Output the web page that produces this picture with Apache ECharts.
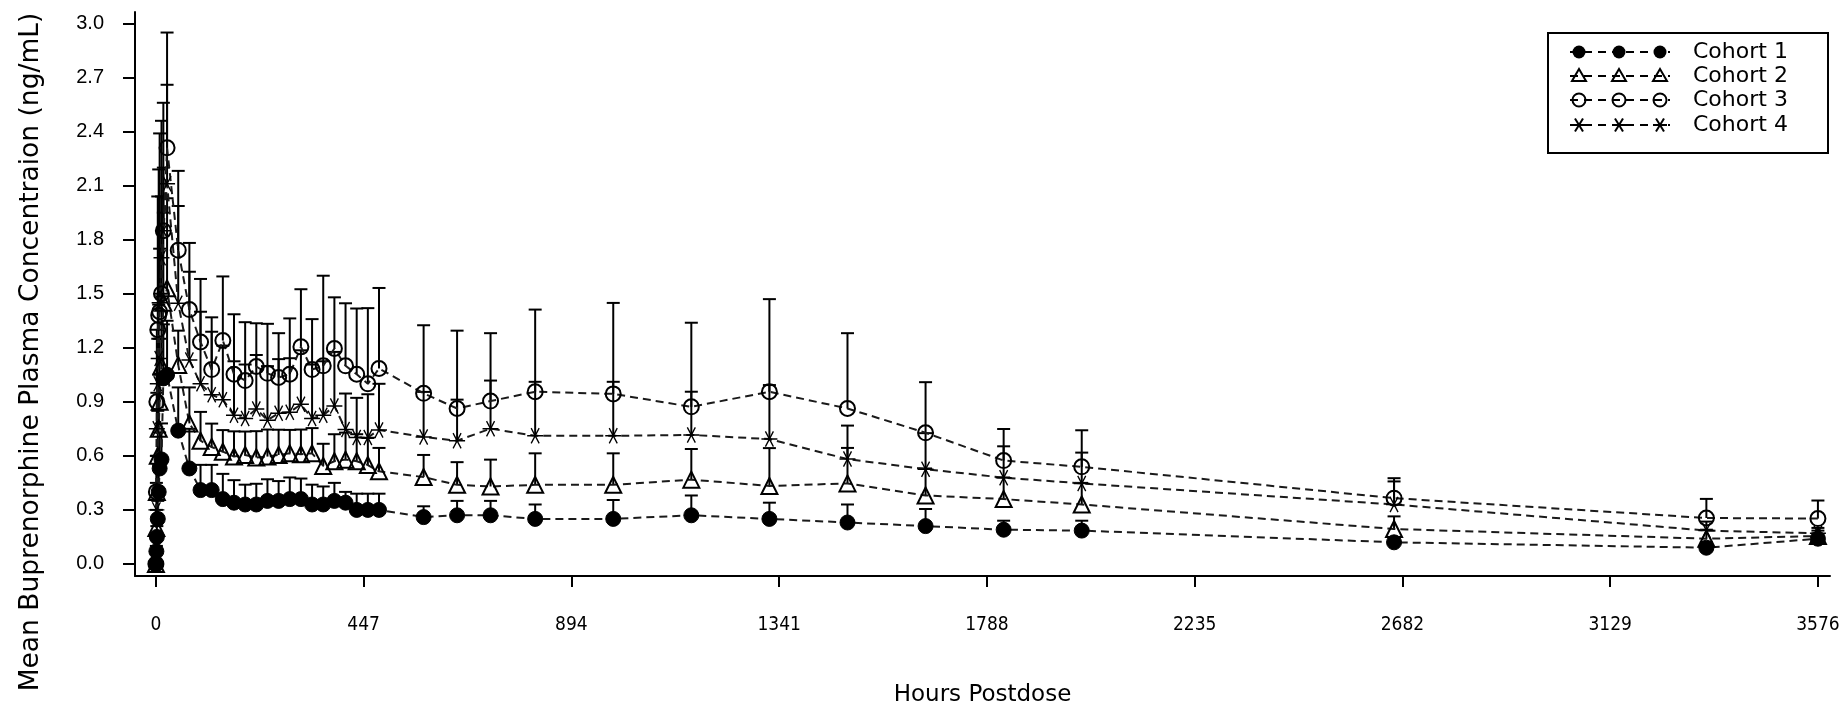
<!DOCTYPE html>
<html>
<head>
<meta charset="utf-8">
<script src="https://cdn.jsdelivr.net/npm/echarts@6/dist/echarts.min.js"></script>
<style>
  html, body { margin: 0; padding: 0; background: #fff; }
  #chart { width: 1843px; height: 705px; }
</style>
</head>
<body>
<div id="chart"></div>
<script>
// Sampling times (hours after dose), shared by all cohorts
const hours = [0, 1, 2, 4, 6, 8, 12, 16, 24,
  48, 72, 96, 120, 144, 168, 192, 216, 240, 264, 288, 312, 336, 360, 384, 408, 432, 456, 480,
  576, 648, 720, 816, 984, 1152, 1320, 1488, 1656, 1824, 1992, 2664, 3336, 3576];

// Mean plasma concentration (ng/mL) per cohort
const cohort1Mean = [0, 0.07, 0.15, 0.25, 0.40, 0.53, 0.58, 1.03, 1.05,
  0.74, 0.53, 0.41, 0.41, 0.36, 0.34, 0.33, 0.33, 0.35, 0.35, 0.36, 0.36, 0.33, 0.33, 0.35, 0.34, 0.30, 0.30, 0.30,
  0.26, 0.27, 0.27, 0.25, 0.25, 0.27, 0.25, 0.23, 0.21, 0.19, 0.185, 0.12, 0.09, 0.14];
const cohort2Mean = [0, 0.20, 0.40, 0.60, 0.75, 0.90, 1.10, 1.45, 1.53,
  1.105, 0.78, 0.684, 0.649, 0.623, 0.596, 0.605, 0.591, 0.596, 0.605, 0.614, 0.609, 0.614, 0.544, 0.57, 0.579, 0.57, 0.549, 0.514,
  0.482, 0.439, 0.43, 0.439, 0.439, 0.468, 0.433, 0.447, 0.38, 0.36, 0.33, 0.194, 0.14, 0.155];
const cohort3Mean = [0, 0.40, 0.90, 1.30, 1.38, 1.40, 1.50, 1.85, 2.31,
  1.742, 1.412, 1.232, 1.079, 1.24, 1.053, 1.018, 1.096, 1.058, 1.035, 1.053, 1.205, 1.079, 1.10, 1.196, 1.10, 1.053, 1.0, 1.085,
  0.947, 0.863, 0.904, 0.956, 0.944, 0.872, 0.956, 0.863, 0.728, 0.574, 0.539, 0.365, 0.255, 0.252];
const cohort4Mean = [0, 0.30, 0.75, 1.00, 1.14, 1.45, 1.70, 1.85, 2.11,
  1.447, 1.132, 1.0, 0.939, 0.912, 0.825, 0.807, 0.86, 0.798, 0.837, 0.842, 0.886, 0.807, 0.825, 0.877, 0.746, 0.702, 0.702, 0.744,
  0.705, 0.684, 0.751, 0.711, 0.711, 0.716, 0.693, 0.582, 0.526, 0.479, 0.447, 0.33, 0.185, 0.17];

// Standard deviations (drawn as upper error bars)
const cohort1Sd = [0, 0.03, 0.06, 0.1, 0.15, 0.2, 0.2, 0.3, 0.3,
  0.24, 0.22, 0.14, 0.14, 0.14, 0.125, 0.11, 0.115, 0.12, 0.11, 0.12, 0.114, 0.11, 0.10, 0.10, 0.06, 0.09, 0.09, 0.09,
  0.06, 0.08, 0.08, 0.08, 0.105, 0.11, 0.09, 0.10, 0.095, 0.05, 0.055, 0.03, 0.03, 0.02];
const cohort2Sd = [0, 0.1, 0.2, 0.25, 0.3, 0.35, 0.4, 0.5, 0.5,
  0.19, 0.2, 0.16, 0.13, 0.12, 0.14, 0.13, 0.146, 0.15, 0.14, 0.13, 0.137, 0.14, 0.123, 0.15, 0.15, 0.15, 0.15, 0.13,
  0.123, 0.126, 0.149, 0.175, 0.175, 0.17, 0.21, 0.197, 0.15, 0.12, 0.12, 0.07, 0.05, 0.03];
const cohort3Sd = [0, 0.2, 0.4, 0.74, 0.81, 0.99, 0.96, 0.71, 0.64,
  0.44, 0.37, 0.35, 0.29, 0.356, 0.333, 0.324, 0.24, 0.275, 0.246, 0.31, 0.32, 0.28, 0.5, 0.284, 0.347, 0.365, 0.42, 0.447,
  0.378, 0.432, 0.377, 0.456, 0.505, 0.467, 0.514, 0.418, 0.281, 0.175, 0.203, 0.111, 0.106, 0.10];
const cohort4Sd = [0, 0.15, 0.2, 0.25, 0.3, 0.3, 0.34, 0.35, 0.55,
  0.54, 0.49, 0.4, 0.35, 0.3, 0.3, 0.3, 0.3, 0.3, 0.3, 0.3, 0.3, 0.3, 0.3, 0.3, 0.2, 0.22, 0.24, 0.256,
  0.25, 0.228, 0.267, 0.3, 0.3, 0.24, 0.3, 0.186, 0.2, 0.174, 0.171, 0.128, 0.05, 0.03];

const cohortNames = ['Cohort 1', 'Cohort 2', 'Cohort 3', 'Cohort 4'];
const xTicks = [0, 447, 894, 1341, 1788, 2235, 2682, 3129, 3576];
const yTicks = [0, 0.3, 0.6, 0.9, 1.2, 1.5, 1.8, 2.1, 2.4, 2.7, 3.0];

const xTitle = 'Hours Postdose';
const yTitle = 'Mean Buprenorphine Plasma Concentraion (ng/mL)';

const INK = '#000';
const titleFont = '"DejaVu Sans", "Noto Sans", sans-serif';
const starPath = 'path://M0,11H24V13H0Z M6.87,1.1L18.87,21.9L17.13,22.9L5.13,2.1Z M18.87,2.1L6.87,22.9L5.13,21.9L17.13,1.1Z';

const markerStyles = [
  { symbol: 'circle',   size: 15, fill: INK,             border: 1 },
  { symbol: 'triangle', size: 16, fill: 'rgba(0,0,0,0)', border: 2 },
  { symbol: 'circle',   size: 15, fill: 'rgba(0,0,0,0)', border: 2 },
  { symbol: starPath,   size: 16, fill: INK,             border: 0 }
];
const means = [cohort1Mean, cohort2Mean, cohort3Mean, cohort4Mean];
const sds = [cohort1Sd, cohort2Sd, cohort3Sd, cohort4Sd];

function pairs(values) {
  return hours.map((h, i) => [h, values[i]]);
}

function lineSeries(k) {
  const m = markerStyles[k];
  return {
    name: cohortNames[k],
    type: 'line',
    data: pairs(means[k]),
    symbol: m.symbol,
    symbolSize: m.size,
    showAllSymbol: true,
    lineStyle: { color: '#1a1a1a', width: 2, type: [8, 5] },
    itemStyle: { color: m.fill, borderColor: INK, borderWidth: m.border },
    emphasis: { disabled: true },
    z: 3,
    animation: false
  };
}

function errorSeries(k) {
  return {
    type: 'custom',
    data: hours.map((h, i) => [h, means[k][i], means[k][i] + sds[k][i]]),
    encode: { x: 0, y: [1, 2] },
    renderItem: function (params, api) {
      const base = api.coord([api.value(0), api.value(1)]);
      const top = api.coord([api.value(0), api.value(2)]);
      const hw = 6.5;
      return {
        type: 'group',
        children: [
          { type: 'line', shape: { x1: base[0], y1: base[1], x2: top[0], y2: top[1] },
            style: { stroke: INK, lineWidth: 2 } },
          { type: 'line', shape: { x1: top[0] - hw, y1: top[1], x2: top[0] + hw, y2: top[1] },
            style: { stroke: INK, lineWidth: 2 } }
        ]
      };
    },
    silent: true,
    z: 2,
    animation: false
  };
}

// Legend drawn as a boxed key with three markers on a dashed line per entry
function legendMarker(k, cx, cy) {
  if (k === 0) return { type: 'circle', shape: { cx, cy, r: 6.5 }, style: { fill: INK } };
  if (k === 1) return { type: 'polygon', shape: { points: [[cx, cy - 7], [cx + 7, cy + 5], [cx - 7, cy + 5]] },
    style: { fill: 'none', stroke: INK, lineWidth: 2 } };
  if (k === 2) return { type: 'circle', shape: { cx, cy, r: 6.5 }, style: { fill: 'none', stroke: INK, lineWidth: 2 } };
  return {
    type: 'group', children: [
      { type: 'line', shape: { x1: cx - 7, y1: cy, x2: cx + 7, y2: cy }, style: { stroke: INK, lineWidth: 2 } },
      { type: 'line', shape: { x1: cx - 4, y1: cy - 6.5, x2: cx + 4, y2: cy + 6.5 }, style: { stroke: INK, lineWidth: 2 } },
      { type: 'line', shape: { x1: cx + 4, y1: cy - 6.5, x2: cx - 4, y2: cy + 6.5 }, style: { stroke: INK, lineWidth: 2 } }
    ]
  };
}

function legendGraphic() {
  const box = { x: 1548, y: 33, w: 280, h: 120 };
  const children = [
    { type: 'rect', shape: { x: box.x, y: box.y, width: box.w, height: box.h },
      style: { fill: '#fff', stroke: INK, lineWidth: 2 } }
  ];
  const rowY = [52, 76, 100, 125];
  const marks = [1579, 1619, 1660];
  cohortNames.forEach((name, k) => {
    const y = rowY[k];
    children.push({ type: 'line', shape: { x1: 1570, y1: y, x2: 1670, y2: y },
      style: { stroke: INK, lineWidth: 2, lineDash: [8, 6] } });
    marks.forEach(x => children.push(legendMarker(k, x, y)));
    children.push({ type: 'text', x: 1693, y: y,
      style: { text: name, fill: INK, font: '22px ' + titleFont, verticalAlign: 'middle', align: 'left' } });
  });
  return { type: 'group', children, z: 10 };
}

const chart = echarts.init(document.getElementById('chart'), null, { renderer: 'canvas' });

chart.setOption({
  backgroundColor: '#fff',
  animation: false,
  grid: { left: 135, right: 13, top: 12, bottom: 129, outerBoundsMode: 'none' },
  xAxis: {
    type: 'value',
    min: -45,
    max: 3602,
    name: xTitle,
    nameLocation: 'middle',
    nameGap: 108,
    nameMoveOverlap: false,
    nameTextStyle: { color: INK, fontSize: 23, fontFamily: titleFont },
    axisLine: { show: true, onZero: false, lineStyle: { color: INK, width: 2 } },
    axisTick: { show: true, customValues: xTicks, length: 11, lineStyle: { color: INK, width: 2 } },
    axisLabel: { customValues: xTicks, color: INK, fontSize: 19, margin: 40,
      fontFamily: '"Liberation Sans Narrow", "DejaVu Sans Condensed", sans-serif',
      formatter: v => String(v) },
    splitLine: { show: false }
  },
  yAxis: {
    type: 'value',
    min: -0.067,
    max: 3.064,
    axisLine: { show: true, onZero: false, lineStyle: { color: INK, width: 2 } },
    axisTick: { show: true, customValues: yTicks, length: 12, lineStyle: { color: INK, width: 2 } },
    axisLabel: { customValues: yTicks, color: INK, fontSize: 20, margin: 31,
      fontFamily: '"Liberation Sans", Arial, sans-serif',
      formatter: v => v.toFixed(1) },
    splitLine: { show: false }
  },
  graphic: [
    { type: 'text', x: 31, y: 352, rotation: Math.PI / 2,
      style: { text: yTitle, fill: INK, font: '26.5px ' + titleFont, align: 'center', verticalAlign: 'middle' } },
    legendGraphic()
  ],
  series: [0, 1, 2, 3].map(errorSeries).concat([0, 1, 2, 3].map(lineSeries))
});
</script>
</body>
</html>
